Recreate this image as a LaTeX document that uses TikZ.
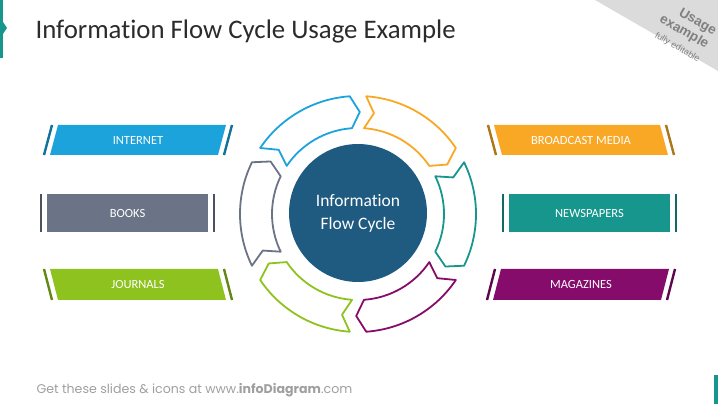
\documentclass[tikz,border=0pt]{standalone}
\usepackage{fontspec}
\setmainfont{Carlito}[Ligatures=NoCommon]
\newfontfamily\footfont{Poppins}
\newfontfamily\tagfont{Liberation Sans}
\definecolor{infoblue}{HTML}{1CA3DC}
\definecolor{bookgray}{HTML}{6B7386}
\definecolor{journalgreen}{HTML}{8DC21F}
\definecolor{mediaorange}{HTML}{F9A826}
\definecolor{newsteal}{HTML}{17968E}
\definecolor{magpurple}{HTML}{850C6B}
\definecolor{coreblue}{HTML}{1F5A80}
\definecolor{titlegray}{HTML}{2B2B2B}
\begin{document}
\begin{tikzpicture}[x=1pt,y=1pt,
    ring/.style={line width=1.8pt,line join=round},
    stripe/.style={line width=2.4pt},
    boxtext/.style={text=white,font=\fontsize{12.5}{14}\selectfont}]
    \useasboundingbox (0,0) rectangle (718,404);
    % corner tag and edge marks
    \fill[gray!28] (595,404) -- (718,404) -- (718,333) -- cycle;
    \node[rotate=-30,text=gray,align=right,inner sep=0pt,font=\tagfont\bfseries\fontsize{13.5}{15.5}\selectfont] (tag) at (684,372) {Usage\\example\\{\mdseries\fontsize{9}{10}\selectfont fully editable}};
    \fill[newsteal] (0,346) rectangle (3,404);
    \fill[newsteal] (3,370) -- (7,376) -- (3,382) -- cycle;
    \fill[newsteal] (714,0) rectangle (718,29);
    \node[anchor=west,text=titlegray,font=\fontsize{26.8}{30}\selectfont] (title) at (32,372) {Information Flow Cycle Usage Example};
    \node[anchor=west,text=gray!75,font=\footfont\fontsize{12.6}{14}\selectfont] (footer) at (33,14) {Get these slides \& icons at www.\textbf{infoDiagram}.com};
    % cycle
    \begin{scope}[shift={(358,190)}]
        \draw[ring,infoblue] (146:118) arc[start angle=146,end angle=94,radius=118] -- (89:102) -- (94:86) arc[start angle=94,end angle=146,radius=86] -- (141:102) -- cycle;
        \draw[ring,mediaorange] (86:118) arc[start angle=86,end angle=34,radius=118] -- (29:102) -- (34:86) arc[start angle=34,end angle=86,radius=86] -- (81:102) -- cycle;
        \draw[ring,newsteal] (26:118) arc[start angle=26,end angle=-26,radius=118] -- (-31:102) -- (-26:86) arc[start angle=-26,end angle=26,radius=86] -- (21:102) -- cycle;
        \draw[ring,magpurple] (-34:118) arc[start angle=-34,end angle=-86,radius=118] -- (-91:102) -- (-86:86) arc[start angle=-86,end angle=-34,radius=86] -- (-39:102) -- cycle;
        \draw[ring,journalgreen] (-94:118) arc[start angle=-94,end angle=-146,radius=118] -- (-151:102) -- (-146:86) arc[start angle=-146,end angle=-94,radius=86] -- (-99:102) -- cycle;
        \draw[ring,bookgray] (206:118) arc[start angle=206,end angle=154,radius=118] -- (149:102) -- (154:86) arc[start angle=154,end angle=206,radius=86] -- (201:102) -- cycle;
        \node[circle,fill=coreblue,minimum size=138pt,inner sep=0pt,text=white,align=center,font=\fontsize{17.5}{23}\selectfont] (core) at (0,1) {Information\\Flow Cycle};
    \end{scope}
    % left boxes
    \fill[infoblue] (50,249) -- (218,249) -- (226,279) -- (58,279) -- cycle;
    \draw[stripe,infoblue!70!black] (44,249) -- (52,279);
    \draw[stripe,infoblue!70!black] (224,249) -- (232,279);
    \node[boxtext] (internet) at (138,264) {INTERNET};
    \fill[bookgray] (47,172) rectangle (208,210);
    \draw[stripe,bookgray!70!black] (41,172) -- (41,210);
    \draw[stripe,bookgray!70!black] (214,172) -- (214,210);
    \node[boxtext] (books) at (127.5,191) {BOOKS};
    \fill[journalgreen] (58,104) -- (226,104) -- (218,135) -- (50,135) -- cycle;
    \draw[stripe,journalgreen!70!black] (52,104) -- (44,135);
    \draw[stripe,journalgreen!70!black] (232,104) -- (224,135);
    \node[boxtext] (journals) at (138,119.5) {JOURNALS};
    % right boxes
    \fill[mediaorange] (502,249) -- (668,249) -- (660,279) -- (494,279) -- cycle;
    \draw[stripe,mediaorange!70!black] (496,249) -- (488,279);
    \draw[stripe,mediaorange!70!black] (674,249) -- (666,279);
    \node[boxtext] (media) at (581,264) {BROADCAST MEDIA};
    \fill[newsteal] (509,172) rectangle (670,210);
    \draw[stripe,newsteal!70!black] (503,172) -- (503,210);
    \draw[stripe,newsteal!70!black] (676,172) -- (676,210);
    \node[boxtext] (newspapers) at (589.5,191) {NEWSPAPERS};
    \fill[magpurple] (493,104) -- (661,104) -- (669,135) -- (501,135) -- cycle;
    \draw[stripe,magpurple!70!black] (487,104) -- (495,135);
    \draw[stripe,magpurple!70!black] (667,104) -- (675,135);
    \node[boxtext] (magazines) at (581,119.5) {MAGAZINES};
\end{tikzpicture}
\end{document}
